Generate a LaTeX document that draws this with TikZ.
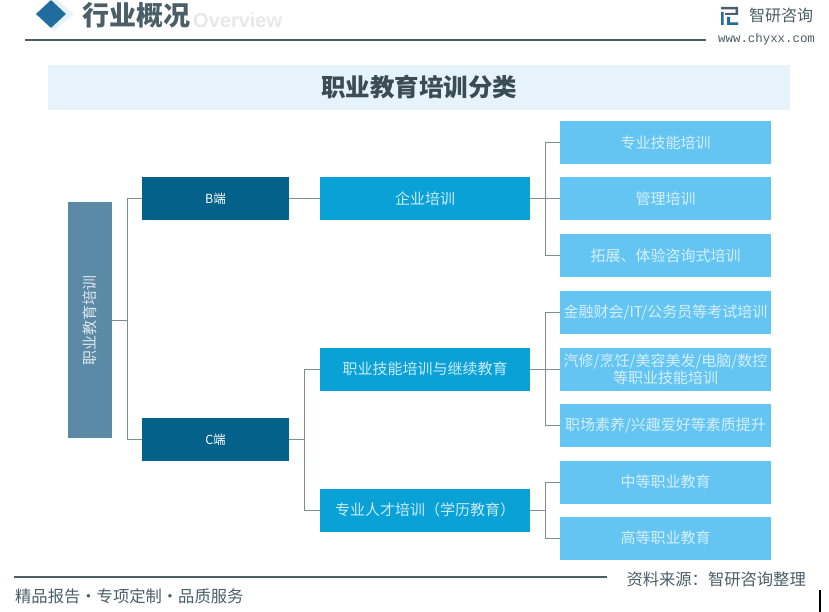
\documentclass[tikz,border=0pt]{standalone}
\usepackage{fontspec}
\setmainfont{Noto Sans CJK SC}
\newfontfamily\latinfont{Liberation Sans}
\newfontfamily\monofont{Liberation Mono}
\usetikzlibrary{shapes.geometric}
\definecolor{rootc}{HTML}{5B8AA6}
\definecolor{darkc}{HTML}{03628A}
\definecolor{midc}{HTML}{0AA2D6}
\definecolor{leafc}{HTML}{64C5F2}
\definecolor{bandc}{HTML}{E6F3FB}
\definecolor{linec}{HTML}{7E8E92}
\definecolor{headc}{HTML}{4A5F68}
\definecolor{diac}{HTML}{1F6C9E}
\tikzset{
  boxbase/.style={anchor=center,inner sep=0pt,align=center,text=white,font=\fontsize{15}{17}\selectfont},
  rootbox/.style={boxbase,fill=rootc,minimum width=236pt,minimum height=44pt,text=white!80!rootc},
  darkbox/.style={boxbase,fill=darkc,minimum width=147pt,minimum height=43pt,font=\fontsize{12.5}{14}\selectfont},
  midbox/.style={boxbase,fill=midc,minimum width=210pt,minimum height=43pt,text=white!78!midc},
  leafbox/.style={boxbase,fill=leafc,minimum width=211pt,minimum height=43pt,text=white!72!leafc},
  conn/.style={draw=linec,line width=1pt},
  rule/.style={draw=headc,line width=1.2pt}
}
\begin{document}
\begin{tikzpicture}[x=1pt,y=-1pt]
\useasboundingbox[fill=white] (0,0) rectangle (829,612);
% header
\node[diamond,fill=bandc,minimum width=40pt,minimum height=34pt,inner sep=0pt] (halo) at (54,14) {};
\node[diamond,fill=diac,minimum width=30pt,minimum height=28pt,inner sep=0pt] (dia) at (51,14) {};
\node[text=black!9,font=\latinfont\bfseries\fontsize{20}{22}\selectfont,anchor=west,inner sep=0pt] (ov) at (193,20) {Overview};
\node[text=headc,font=\bfseries\fontsize{27}{30}\selectfont,anchor=west,inner sep=0pt] (head) at (82,15) {行业概况};
\coordinate (h1) at (25,40); \coordinate (h2) at (706,40);
\draw[rule] (h1) -- (h2);
% logo
\fill[headc] (721,7) rectangle (738,9.5) (735.5,7) rectangle (738,15) (725,13) rectangle (738,15);
\fill[diac] (721,12) rectangle (723.5,25) (727,17) rectangle (730,25) (727,22.5) rectangle (738,25);
\node[text=headc,font=\fontsize{16}{18}\selectfont,anchor=west,inner sep=0pt] (brand) at (749,15) {智研咨询};
\node[text=headc,font=\monofont\fontsize{12.4}{14}\selectfont,anchor=west,inner sep=0pt] (url) at (718,39) {www.chyxx.com};
% title band
\node[fill=bandc,minimum width=742pt,minimum height=45pt,inner sep=0pt,text=headc!80!black,font=\bfseries\fontsize{24.5}{27}\selectfont] (title) at (419,87.5) {职业教育培训分类};
% boxes
\node[rootbox,rotate=90] (root) at (90,320) {职业教育培训};
\node[darkbox] (b) at (215.5,198.5) {B端};
\node[darkbox] (c) at (215.5,439.5) {C端};
\node[midbox] (m1) at (425,198.5) {企业培训};
\node[midbox] (m2) at (425,369) {职业技能培训与继续教育};
\node[midbox] (m3) at (425,510) {专业人才培训（学历教育）};
\node[leafbox] (l1) at (665.5,142.5) {专业技能培训};
\node[leafbox] (l2) at (665.5,198.5) {管理培训};
\node[leafbox] (l3) at (665.5,255.5) {拓展、体验咨询式培训};
\node[leafbox] (l4) at (665.5,312) {金融财会/IT/公务员等考试培训};
\node[leafbox] (l5) at (665.5,369) {汽修/烹饪/美容美发/电脑/数控\\等职业技能培训};
\node[leafbox] (l6) at (665.5,425) {职场素养/兴趣爱好等素质提升};
\node[leafbox] (l7) at (665.5,482) {中等职业教育};
\node[leafbox] (l8) at (665.5,538) {高等职业教育};
% connectors
\draw[conn] (root.south) -- ++(15,0) coordinate (j0);
\draw[conn] (b.west) -| (j0) |- (c.west);
\draw[conn] (b.east) -- (m1.west);
\draw[conn] (c.east) -- ++(15,0) coordinate (j1);
\draw[conn] (m2.west) -| (j1) |- (m3.west);
\draw[conn] (m1.east) -- (l2.west);
\path (m1.east) ++(15,0) coordinate (j2);
\draw[conn] (l1.west) -| (j2) |- (l3.west);
\draw[conn] (m2.east) -- (l5.west);
\path (m2.east) ++(15,0) coordinate (j3);
\draw[conn] (l4.west) -| (j3) |- (l6.west);
\draw[conn] (m3.east) -- ++(15,0) coordinate (j4);
\draw[conn] (l7.west) -| (j4) |- (l8.west);
% footer
\coordinate (f1) at (14,577); \coordinate (f2) at (607,577);
\draw[rule] (f1) -- (f2);
\node[text=headc,font=\fontsize{16.3}{18}\selectfont,anchor=west,inner sep=0pt] (slogan) at (15,596) {精品报告·专项定制·品质服务};
\node[text=headc,font=\fontsize{16.3}{18}\selectfont,anchor=east,inner sep=0pt] (src) at (806,579) {资料来源：智研咨询整理};
\fill[black] (819,590) rectangle (821,612);
\end{tikzpicture}
\end{document}
